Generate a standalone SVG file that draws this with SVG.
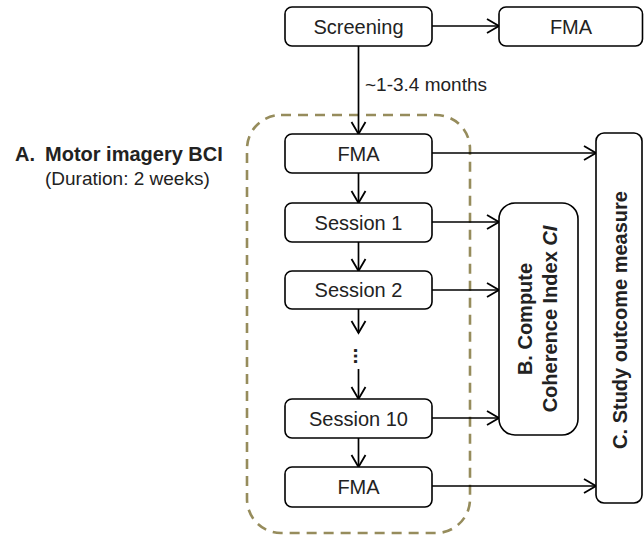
<svg xmlns="http://www.w3.org/2000/svg" width="644" height="536" viewBox="0 0 644 536">
<style>
.box{fill:#fff;stroke:#000;stroke-width:1.6}
.t{font-family:"Liberation Sans",Arial,sans-serif;font-size:20px;fill:#222;text-anchor:middle}
.b{font-weight:bold}
.edge{stroke:#000;stroke-width:1.7;fill:none;marker-end:url(#arr)}
</style>
<defs>
<marker id="arr" markerUnits="userSpaceOnUse" markerWidth="18" markerHeight="18" refX="13" refY="9" orient="auto">
<path d="M1,2 L13,9 L1,16" fill="none" stroke="#000" stroke-width="1.8"/>
</marker>
</defs>
<rect x="0" y="0" width="644" height="536" fill="#fff"/>
<g id="container">
<rect x="247" y="115" width="223" height="418" rx="34" ry="34" fill="none" stroke="#968c5c" stroke-width="2.6" stroke-dasharray="10 7"/>
</g>
<g id="labelA">
<text class="t b" x="15" y="161" style="text-anchor:start">A.</text>
<text class="t b" x="45" y="161" style="text-anchor:start">Motor imagery BCI</text>
<text class="t" x="45" y="185" style="text-anchor:start;font-size:19px">(Duration: 2 weeks)</text>
</g>
<g id="connectors">
<line class="edge" x1="432" y1="26" x2="499" y2="26"/>
<line class="edge" x1="358.5" y1="46" x2="358.5" y2="134"/>
<text class="t" x="365" y="91" style="text-anchor:start;font-size:19px">~1-3.4 months</text>
<line class="edge" x1="358.5" y1="173" x2="358.5" y2="203"/>
<line class="edge" x1="358.5" y1="242" x2="358.5" y2="271"/>
<line class="edge" x1="358.5" y1="309" x2="358.5" y2="333"/>
<text class="t b" transform="translate(355,356) rotate(90)" x="0" y="1.4">...</text>
<line class="edge" x1="358.5" y1="369" x2="358.5" y2="399"/>
<line class="edge" x1="358.5" y1="438" x2="358.5" y2="467"/>
<line class="edge" x1="432" y1="153" x2="596" y2="153"/>
<line class="edge" x1="432" y1="222" x2="499" y2="222"/>
<line class="edge" x1="432" y1="290" x2="499" y2="290"/>
<line class="edge" x1="432" y1="418" x2="499" y2="418"/>
<line class="edge" x1="432" y1="486" x2="596" y2="486"/>
</g>
<g id="screening">
<rect class="box" x="285" y="7" width="147" height="39" rx="7"/>
<text class="t" x="358.5" y="33.5">Screening</text>
</g>
<g id="fma0">
<rect class="box" x="499" y="7" width="143.5" height="39" rx="7"/>
<text class="t" x="571" y="33.5">FMA</text>
</g>
<g id="fma1">
<rect class="box" x="285" y="134" width="147" height="39" rx="7"/>
<text class="t" x="358.5" y="160.5">FMA</text>
</g>
<g id="session1">
<rect class="box" x="285" y="203" width="147" height="39" rx="7"/>
<text class="t" x="358.5" y="229.5">Session 1</text>
</g>
<g id="session2">
<rect class="box" x="285" y="271" width="147" height="38" rx="7"/>
<text class="t" x="358.5" y="297">Session 2</text>
</g>
<g id="session10">
<rect class="box" x="285" y="399" width="147" height="39" rx="7"/>
<text class="t" x="358.5" y="425.5">Session 10</text>
</g>
<g id="fma2">
<rect class="box" x="285" y="467" width="147" height="40" rx="7"/>
<text class="t" x="358.5" y="494">FMA</text>
</g>
<g id="nodeB">
<rect class="box" x="499" y="203" width="79" height="232" rx="16"/>
<text class="t b" transform="translate(532,319) rotate(-90)" x="0" y="0">B. Compute</text>
<text class="t b" transform="translate(557,319) rotate(-90)" x="0" y="0">Coherence Index <tspan font-style="italic">CI</tspan></text>
</g>
<g id="nodeC">
<rect class="box" x="596" y="133" width="46" height="370" rx="8"/>
<text class="t b" transform="translate(627,320) rotate(-90)" x="0" y="0">C. Study outcome measure</text>
</g>
</svg>
